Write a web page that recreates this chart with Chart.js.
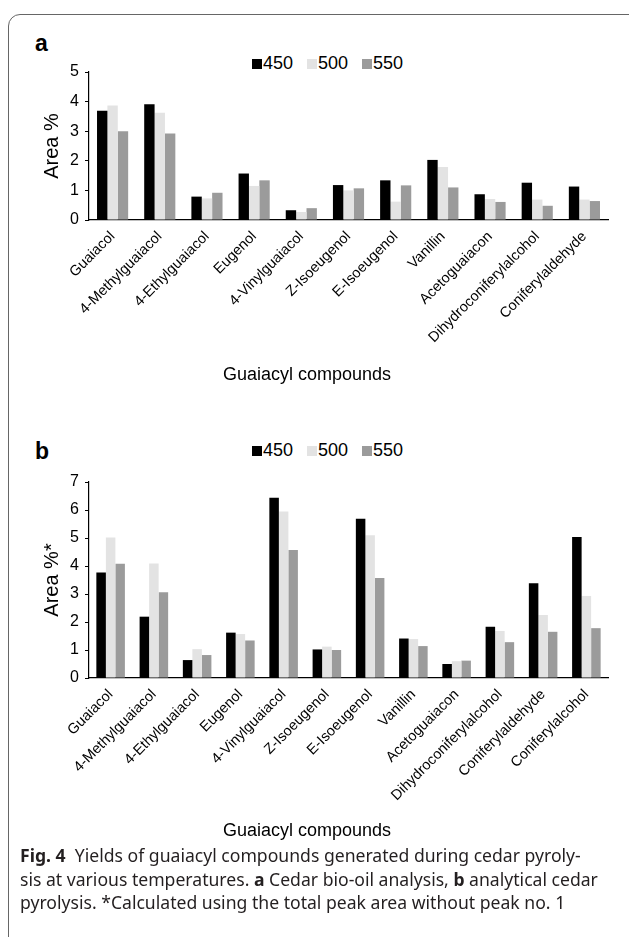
<!DOCTYPE html>
<html>
<head>
<meta charset="utf-8">
<script src="https://cdn.jsdelivr.net/npm/chart.js@4.4.1/dist/chart.umd.min.js"></script>
<style>
  html, body { margin: 0; padding: 0; background: #fff; }
  body { width: 629px; height: 937px; position: relative; overflow: hidden; font-family: "Liberation Sans", Arial, sans-serif; }
  .frame { position: absolute; left: 8px; top: 14px; width: 640px; height: 960px; border: 1.5px solid #666; border-radius: 12px; box-sizing: border-box; }
  .tag { position: absolute; font: bold 23px "Liberation Sans", Arial, sans-serif; color: #000; }
  .legend { position: absolute; left: 252px; height: 20px; font: 18px "Liberation Sans", Arial, sans-serif; line-height: 20px; white-space: nowrap; }
  .legend span.item { display: inline-block; margin-right: 14px; }
  .legend i { display: inline-block; width: 10px; height: 10px; margin-right: 1px; vertical-align: 0px; }
  .xtitle { position: absolute; left: 157px; width: 300px; text-align: center; font: 18px "Liberation Sans", Arial, sans-serif; line-height: 22px; color: #000; }
  canvas { position: absolute; left: 0; }
  .caption { position: absolute; left: 20px; top: 844px; font: 17.6px "Noto Sans", sans-serif; line-height: 23.5px; color: #231f20; white-space: nowrap; }
  .caption b { font-weight: bold; }
</style>
</head>
<body>
<div class="frame"></div>
<div class="tag" style="left:35px;top:30px;">a</div>
<div class="tag" style="left:35px;top:438px;">b</div>
<div class="legend" id="legA" style="top:53px;"></div>
<div class="legend" id="legB" style="top:440px;"></div>
<canvas id="chartA" width="629" height="400" style="top:0;width:629px;height:400px;"></canvas>
<canvas id="chartB" width="629" height="440" style="top:410px;width:629px;height:440px;"></canvas>
<div class="xtitle" style="top:363px;">Guaiacyl compounds</div>
<div class="xtitle" style="top:819px;">Guaiacyl compounds</div>
<div class="caption"><b>Fig. 4</b>&nbsp; Yields of guaiacyl compounds generated during cedar pyroly-<br>sis at various temperatures. <b>a</b> Cedar bio-oil analysis, <b>b</b> analytical cedar<br>pyrolysis. *Calculated using the total peak area without peak no. 1</div>
<script>
const seriesNames = ["450", "500", "550"];
const seriesColors = ["#000000", "#e3e3e3", "#9b9b9b"];

const compoundsA = ["Guaiacol", "4-Methylguaiacol", "4-Ethylguaiacol", "Eugenol", "4-Vinylguaiacol",
  "Z-Isoeugenol", "E-Isoeugenol", "Vanillin", "Acetoguaiacon", "Dihydroconiferylalcohol", "Coniferylaldehyde"];
const a450 = [3.69, 3.91, 0.79, 1.57, 0.33, 1.18, 1.34, 2.03, 0.87, 1.26, 1.13];
const a500 = [3.87, 3.62, 0.73, 1.15, 0.27, 1.00, 0.62, 1.79, 0.71, 0.69, 0.69];
const a550 = [3.00, 2.92, 0.92, 1.34, 0.40, 1.07, 1.17, 1.10, 0.61, 0.48, 0.64];

const compoundsB = ["Guaiacol", "4-Methylguaiacol", "4-Ethylguaiacol", "Eugenol", "4-Vinylguaiacol",
  "Z-Isoeugenol", "E-Isoeugenol", "Vanillin", "Acetoguaiacon", "Dihydroconiferylalcohol", "Coniferylaldehyde", "Coniferylalcohol"];
const b450 = [3.77, 2.19, 0.64, 1.62, 6.44, 1.02, 5.69, 1.41, 0.50, 1.83, 3.38, 5.04];
const b500 = [5.02, 4.09, 1.03, 1.57, 5.95, 1.12, 5.10, 1.39, 0.60, 1.68, 2.25, 2.93];
const b550 = [4.08, 3.06, 0.82, 1.34, 4.57, 1.00, 3.57, 1.14, 0.62, 1.28, 1.65, 1.78];

const yMaxA = 5, yMaxB = 7;
const FONT = "'Liberation Sans', Arial, sans-serif";

function legendHtml() {
  return seriesNames.map((n, i) =>
    `<span class="item"><i style="background:${seriesColors[i]}"></i>${n}</span>`).join("");
}
document.getElementById("legA").innerHTML = legendHtml();
document.getElementById("legB").innerHTML = legendHtml();

function makeChart(id, labels, values, yMax, yTitle, pad, xHeight) {
  return new Chart(document.getElementById(id), {
    type: "bar",
    data: {
      labels,
      datasets: values.map((v, i) => ({
        label: seriesNames[i], data: v, backgroundColor: seriesColors[i],
        borderWidth: 0, categoryPercentage: 0.66, barPercentage: 1
      }))
    },
    options: {
      responsive: false, animation: false,
      layout: { padding: pad },
      plugins: { legend: { display: false }, tooltip: { enabled: false } },
      scales: {
        x: {
          grid: { display: false, drawTicks: false },
          border: { display: true, color: "#000", width: 1.2 },
          ticks: { autoSkip: false, maxRotation: 45, minRotation: 45, padding: 8, color: "#000",
            font: { family: FONT, size: 14.5 } },
          afterFit: s => { s.height = xHeight; }
        },
        y: {
          min: 0, max: yMax,
          grid: { drawOnChartArea: false, drawTicks: true, tickLength: 4, color: "#000" },
          border: { display: true, color: "#000", width: 1.2 },
          ticks: { stepSize: 1, padding: 6, color: "#000", font: { family: FONT, size: 16 } },
          title: { display: true, text: yTitle, color: "#000", padding: 0,
            font: { family: FONT, size: 20 } },
          afterFit: s => { s.width = 49; }
        }
      }
    }
  });
}

makeChart("chartA", compoundsA, [a450, a500, a550], yMaxA, "Area %",
  { left: 40, right: 21, top: 72, bottom: 15 }, 165);
makeChart("chartB", compoundsB, [b450, b500, b550], yMaxB, "Area %*",
  { left: 40, right: 21, top: 72, bottom: 8 }, 164);
</script>
</body>
</html>
